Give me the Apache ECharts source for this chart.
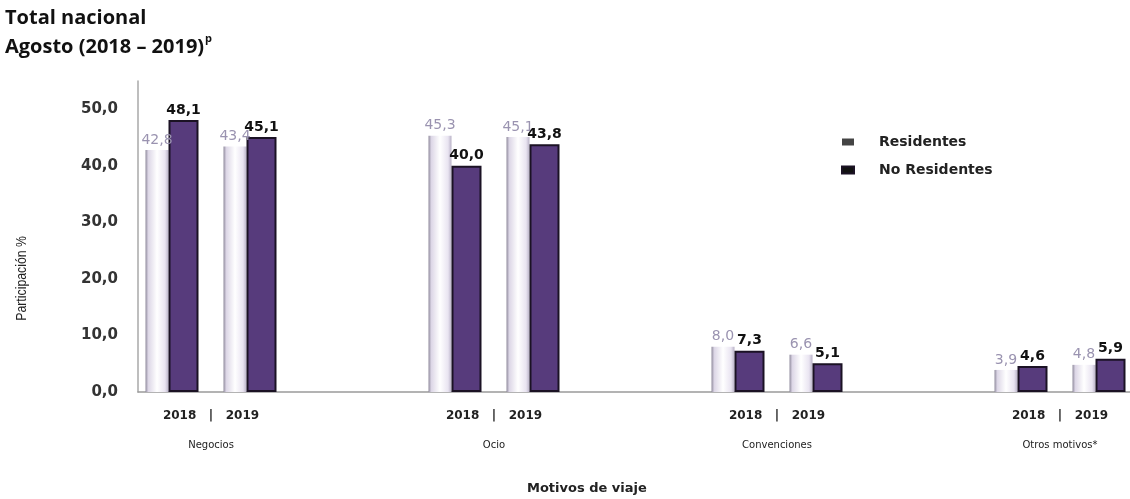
<!DOCTYPE html>
<html>
<head>
<meta charset="utf-8">
<script src="https://cdn.jsdelivr.net/npm/echarts@6/dist/echarts.min.js"></script>
<style>
  html, body { margin: 0; padding: 0; background: #fff; }
  #chart { width: 1130px; height: 499px; }
</style>
</head>
<body>
<div id="chart"></div>
<script>
// datos
const motivos = ['Negocios', 'Ocio', 'Convenciones', 'Otros motivos*'];
const anios = ['2018', '2019'];
const residentes2018 = [42.8, 45.3, 8.0, 3.9];
const noResidentes2018 = [48.1, 40.0, 7.3, 4.6];
const residentes2019 = [43.4, 45.1, 6.6, 4.8];
const noResidentes2019 = [45.1, 43.8, 5.1, 5.9];
const yMax = 55;

const coma = v => v.toFixed(1).replace('.', ',');

const chart = echarts.init(document.getElementById('chart'));

const residStyle = {
  color: new echarts.graphic.LinearGradient(0, 0, 1, 0, [
    { offset: 0, color: '#8f8a9c' },
    { offset: 0.12, color: '#dcd6e6' },
    { offset: 0.5, color: '#ffffff' },
    { offset: 0.85, color: '#e9e4f1' },
    { offset: 1, color: '#b9b2c7' }
  ])
};
const noResidStyle = { color: '#573b7c', borderColor: '#1b1224', borderWidth: 2 };

const residLabel = {
  show: true, position: 'top', distance: 3,
  color: '#9a93b0', fontSize: 14, fontFamily: 'DejaVu Sans',
  formatter: p => coma(p.value)
};
const noResidLabel = {
  show: true, position: 'top', distance: 3,
  color: '#111', fontSize: 14, fontWeight: 'bold', fontFamily: 'DejaVu Sans',
  formatter: p => coma(p.value)
};

chart.setOption({
  animation: false,
  title: {
    left: 5, top: 4, padding: 0,
    text: 'Total nacional\nAgosto (2018 – 2019){sup|p}',
    textStyle: {
      fontFamily: 'Open Sans', fontWeight: 'bold', fontSize: 20, color: '#111', lineHeight: 29,
      rich: { sup: { fontSize: 11, fontWeight: 'bold', fontFamily: 'Open Sans', color: '#111', verticalAlign: 'top', padding: [0, 0, 8, 1] } }
    }
  },
  legend: {
    orient: 'vertical', left: 836, top: 130,
    itemWidth: 12, itemHeight: 7, itemGap: 14,
    textStyle: { fontFamily: 'DejaVu Sans', fontSize: 14, fontWeight: 'bold', color: '#222', padding: [0, 0, 0, 20] },
    data: [
      { name: 'Residentes', icon: 'rect', itemStyle: { color: '#444' } },
      { name: 'No Residentes', icon: 'rect', itemStyle: { color: '#111' } }
    ]
  },
  grid: [
    { left: 138, right: 0, top: 81, bottom: 107, outerBoundsMode: 'none' },
    { left: 69.5, width: 1132, top: 81, bottom: 107, outerBoundsMode: 'none' }
  ],
  xAxis: [
    {
      gridIndex: 0, type: 'value', min: 0, max: 1,
      axisLine: { show: true, lineStyle: { color: '#9a9a9a', width: 1.5 } },
      axisTick: { show: false }, axisLabel: { show: false }, splitLine: { show: false }
    },
    {
      gridIndex: 1, type: 'category', data: motivos,
      axisLine: { show: false }, axisTick: { show: false },
      axisLabel: {
        margin: 6,
        formatter: v => '{y|' + anios[0] + '   |   ' + anios[1] + '}\n{g|' + v + '}',
        rich: {
          y: { fontFamily: 'DejaVu Sans', fontSize: 12, fontWeight: 'bold', color: '#222', lineHeight: 36 },
          g: { fontFamily: 'DejaVu Sans', fontSize: 10, color: '#222', lineHeight: 22 }
        }
      }
    }
  ],
  yAxis: [
    {
      gridIndex: 0, type: 'value', min: 0, max: yMax, interval: 10,
      axisLine: { show: true, lineStyle: { color: '#a8a8a8', width: 1.5 } },
      axisTick: { show: false }, splitLine: { show: false },
      axisLabel: {
        margin: 20, fontFamily: 'DejaVu Sans', fontSize: 15, fontWeight: 'bold', color: '#333',
        showMaxLabel: false,
        formatter: v => (v % 10 === 0 ? coma(v) : '')
      }
    },
    { gridIndex: 1, type: 'value', min: 0, max: yMax, show: false }
  ],
  graphic: [
    {
      type: 'text', left: 14, top: 236, rotation: Math.PI / 2, scaleX: 0.82,
      style: { text: 'Participación %', fontFamily: 'Liberation Sans', fontSize: 15, fill: '#222' }
    },
    {
      type: 'text', left: 527, top: 482,
      style: { text: 'Motivos de viaje', fontFamily: 'DejaVu Sans', fontSize: 13, fontWeight: 'bold', fill: '#222' }
    }
  ],
  series: [
    { name: 'Residentes', type: 'bar', xAxisIndex: 1, yAxisIndex: 1, barWidth: 23, barGap: 0, data: residentes2018, itemStyle: residStyle, label: residLabel },
    { name: 'No Residentes', type: 'bar', xAxisIndex: 1, yAxisIndex: 1, barWidth: 30, barGap: 0, data: noResidentes2018, itemStyle: noResidStyle, label: noResidLabel },
    { name: 'espacio', type: 'bar', xAxisIndex: 1, yAxisIndex: 1, barWidth: 25, barGap: 0, data: [], silent: true },
    { name: 'Residentes', type: 'bar', xAxisIndex: 1, yAxisIndex: 1, barWidth: 23, barGap: 0, data: residentes2019, itemStyle: residStyle, label: residLabel },
    { name: 'No Residentes', type: 'bar', xAxisIndex: 1, yAxisIndex: 1, barWidth: 30, barGap: 0, data: noResidentes2019, itemStyle: noResidStyle, label: noResidLabel }
  ]
});
</script>
</body>
</html>
